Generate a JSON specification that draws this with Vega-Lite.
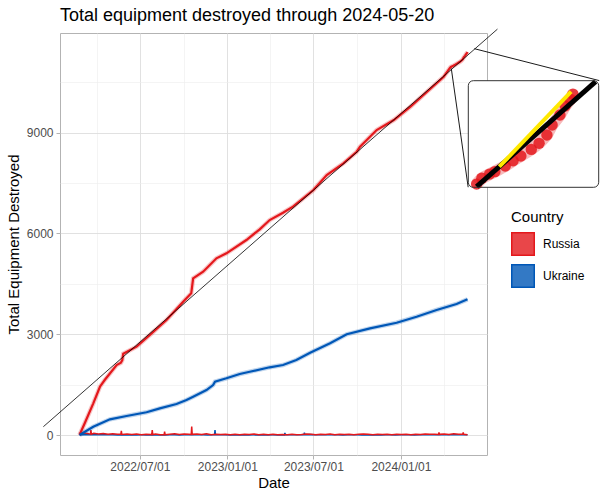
{
"$schema": "https://vega.github.io/schema/vega-lite/v6.json",
"width": 427, "height": 422,
"autosize": {"type": "none"},
"padding": {"left": 60, "top": 33, "right": 113, "bottom": 45},
"background": "white",
"title": {"text": "Total equipment destroyed through 2024-05-20", "anchor": "start", "frame": "group", "fontSize": 18, "fontWeight": "normal", "color": "black", "font": "Liberation Sans", "offset": 3},
"config": {
  "view": {"stroke": "#b3b3b3", "strokeWidth": 1},
  "font": "Liberation Sans",
  "axis": {"domain": false, "tickColor": "#b3b3b3", "tickSize": 4, "labelColor": "#4d4d4d", "labelFontSize": 12, "titleFontSize": 15, "titleFontWeight": "normal", "titleColor": "black", "labelFlush": false, "labelOverlap": false}
},
"datasets": {
  "totals": [
    {"date": "2022-02-24", "country": "Russia", "value": 0},
    {"date": "2022-03-07", "country": "Russia", "value": 350},
    {"date": "2022-03-25", "country": "Russia", "value": 943},
    {"date": "2022-04-08", "country": "Russia", "value": 1437},
    {"date": "2022-04-18", "country": "Russia", "value": 1637},
    {"date": "2022-05-13", "country": "Russia", "value": 2083},
    {"date": "2022-05-22", "country": "Russia", "value": 2150},
    {"date": "2022-05-25", "country": "Russia", "value": 2230},
    {"date": "2022-05-27", "country": "Russia", "value": 2420},
    {"date": "2022-06-24", "country": "Russia", "value": 2628},
    {"date": "2022-07-22", "country": "Russia", "value": 2976},
    {"date": "2022-08-26", "country": "Russia", "value": 3422},
    {"date": "2022-09-30", "country": "Russia", "value": 3967},
    {"date": "2022-10-17", "country": "Russia", "value": 4217},
    {"date": "2022-10-21", "country": "Russia", "value": 4663},
    {"date": "2022-11-11", "country": "Russia", "value": 4860},
    {"date": "2022-12-09", "country": "Russia", "value": 5258},
    {"date": "2022-12-30", "country": "Russia", "value": 5407},
    {"date": "2023-02-10", "country": "Russia", "value": 5803},
    {"date": "2023-03-10", "country": "Russia", "value": 6122},
    {"date": "2023-03-31", "country": "Russia", "value": 6398},
    {"date": "2023-04-28", "country": "Russia", "value": 6616},
    {"date": "2023-05-19", "country": "Russia", "value": 6794},
    {"date": "2023-07-01", "country": "Russia", "value": 7291},
    {"date": "2023-07-29", "country": "Russia", "value": 7738},
    {"date": "2023-09-02", "country": "Russia", "value": 8085},
    {"date": "2023-09-30", "country": "Russia", "value": 8431},
    {"date": "2023-10-07", "country": "Russia", "value": 8580},
    {"date": "2023-11-11", "country": "Russia", "value": 9077},
    {"date": "2023-12-17", "country": "Russia", "value": 9374},
    {"date": "2024-01-21", "country": "Russia", "value": 9770},
    {"date": "2024-02-25", "country": "Russia", "value": 10217},
    {"date": "2024-03-31", "country": "Russia", "value": 10663},
    {"date": "2024-04-13", "country": "Russia", "value": 10923},
    {"date": "2024-04-15", "country": "Russia", "value": 10954},
    {"date": "2024-04-18", "country": "Russia", "value": 10976},
    {"date": "2024-04-20", "country": "Russia", "value": 10989},
    {"date": "2024-04-24", "country": "Russia", "value": 11019},
    {"date": "2024-04-27", "country": "Russia", "value": 11047},
    {"date": "2024-04-30", "country": "Russia", "value": 11072},
    {"date": "2024-05-04", "country": "Russia", "value": 11107},
    {"date": "2024-05-07", "country": "Russia", "value": 11139},
    {"date": "2024-05-10", "country": "Russia", "value": 11183},
    {"date": "2024-05-12", "country": "Russia", "value": 11236},
    {"date": "2024-05-15", "country": "Russia", "value": 11289},
    {"date": "2024-05-17", "country": "Russia", "value": 11337},
    {"date": "2024-05-19", "country": "Russia", "value": 11372},
    {"date": "2024-05-20", "country": "Russia", "value": 11400},
    {"date": "2022-02-24", "country": "Ukraine", "value": 0},
    {"date": "2022-03-25", "country": "Ukraine", "value": 247},
    {"date": "2022-04-29", "country": "Ukraine", "value": 467},
    {"date": "2022-06-03", "country": "Ukraine", "value": 565},
    {"date": "2022-07-15", "country": "Ukraine", "value": 676},
    {"date": "2022-08-12", "country": "Ukraine", "value": 794},
    {"date": "2022-09-16", "country": "Ukraine", "value": 922},
    {"date": "2022-10-07", "country": "Ukraine", "value": 1042},
    {"date": "2022-10-21", "country": "Ukraine", "value": 1140},
    {"date": "2022-11-18", "country": "Ukraine", "value": 1339},
    {"date": "2022-12-02", "country": "Ukraine", "value": 1488},
    {"date": "2022-12-06", "country": "Ukraine", "value": 1587},
    {"date": "2022-12-30", "country": "Ukraine", "value": 1687},
    {"date": "2023-01-27", "country": "Ukraine", "value": 1815},
    {"date": "2023-02-17", "country": "Ukraine", "value": 1884},
    {"date": "2023-03-31", "country": "Ukraine", "value": 2015},
    {"date": "2023-04-28", "country": "Ukraine", "value": 2083},
    {"date": "2023-05-26", "country": "Ukraine", "value": 2232},
    {"date": "2023-06-24", "country": "Ukraine", "value": 2449},
    {"date": "2023-08-05", "country": "Ukraine", "value": 2729},
    {"date": "2023-09-09", "country": "Ukraine", "value": 2997},
    {"date": "2023-10-28", "country": "Ukraine", "value": 3175},
    {"date": "2023-12-23", "country": "Ukraine", "value": 3342},
    {"date": "2024-02-03", "country": "Ukraine", "value": 3521},
    {"date": "2024-03-16", "country": "Ukraine", "value": 3720},
    {"date": "2024-04-27", "country": "Ukraine", "value": 3899},
    {"date": "2024-05-20", "country": "Ukraine", "value": 4038}
  ],
  "daily": [
    {"date": "2022-02-24", "country": "Ukraine", "value": 10},
    {"date": "2022-03-06", "country": "Ukraine", "value": 18},
    {"date": "2022-03-16", "country": "Ukraine", "value": 8},
    {"date": "2022-03-26", "country": "Ukraine", "value": 12},
    {"date": "2022-04-05", "country": "Ukraine", "value": 6},
    {"date": "2022-04-15", "country": "Ukraine", "value": 10},
    {"date": "2022-04-25", "country": "Ukraine", "value": 4},
    {"date": "2022-05-05", "country": "Ukraine", "value": 8},
    {"date": "2022-05-15", "country": "Ukraine", "value": 3},
    {"date": "2022-05-25", "country": "Ukraine", "value": 6},
    {"date": "2022-06-04", "country": "Ukraine", "value": 2},
    {"date": "2022-06-14", "country": "Ukraine", "value": 5},
    {"date": "2022-06-24", "country": "Ukraine", "value": 3},
    {"date": "2022-07-04", "country": "Ukraine", "value": 4},
    {"date": "2022-07-14", "country": "Ukraine", "value": 2},
    {"date": "2022-07-24", "country": "Ukraine", "value": 5},
    {"date": "2022-08-03", "country": "Ukraine", "value": 3},
    {"date": "2022-08-13", "country": "Ukraine", "value": 6},
    {"date": "2022-08-23", "country": "Ukraine", "value": 2},
    {"date": "2022-09-02", "country": "Ukraine", "value": 5},
    {"date": "2022-09-12", "country": "Ukraine", "value": 9},
    {"date": "2022-09-22", "country": "Ukraine", "value": 3},
    {"date": "2022-10-02", "country": "Ukraine", "value": 6},
    {"date": "2022-10-12", "country": "Ukraine", "value": 4},
    {"date": "2022-10-22", "country": "Ukraine", "value": 7},
    {"date": "2022-11-01", "country": "Ukraine", "value": 5},
    {"date": "2022-11-11", "country": "Ukraine", "value": 10},
    {"date": "2022-11-21", "country": "Ukraine", "value": 3},
    {"date": "2022-12-01", "country": "Ukraine", "value": 6},
    {"date": "2022-12-05", "country": "Ukraine", "value": 5},
    {"date": "2022-12-06", "country": "Ukraine", "value": 150},
    {"date": "2022-12-07", "country": "Ukraine", "value": 5},
    {"date": "2022-12-17", "country": "Ukraine", "value": 4},
    {"date": "2022-12-27", "country": "Ukraine", "value": 6},
    {"date": "2023-01-06", "country": "Ukraine", "value": 3},
    {"date": "2023-01-16", "country": "Ukraine", "value": 5},
    {"date": "2023-01-26", "country": "Ukraine", "value": 2},
    {"date": "2023-02-05", "country": "Ukraine", "value": 6},
    {"date": "2023-02-15", "country": "Ukraine", "value": 3},
    {"date": "2023-02-25", "country": "Ukraine", "value": 4},
    {"date": "2023-03-07", "country": "Ukraine", "value": 2},
    {"date": "2023-03-17", "country": "Ukraine", "value": 5},
    {"date": "2023-03-27", "country": "Ukraine", "value": 3},
    {"date": "2023-04-06", "country": "Ukraine", "value": 4},
    {"date": "2023-04-16", "country": "Ukraine", "value": 2},
    {"date": "2023-04-26", "country": "Ukraine", "value": 6},
    {"date": "2023-05-01", "country": "Ukraine", "value": 3},
    {"date": "2023-05-02", "country": "Ukraine", "value": 60},
    {"date": "2023-05-03", "country": "Ukraine", "value": 5},
    {"date": "2023-05-13", "country": "Ukraine", "value": 8},
    {"date": "2023-05-23", "country": "Ukraine", "value": 5},
    {"date": "2023-06-02", "country": "Ukraine", "value": 10},
    {"date": "2023-06-11", "country": "Ukraine", "value": 6},
    {"date": "2023-06-12", "country": "Ukraine", "value": 70},
    {"date": "2023-06-13", "country": "Ukraine", "value": 8},
    {"date": "2023-06-23", "country": "Ukraine", "value": 12},
    {"date": "2023-07-03", "country": "Ukraine", "value": 6},
    {"date": "2023-07-13", "country": "Ukraine", "value": 10},
    {"date": "2023-07-23", "country": "Ukraine", "value": 5},
    {"date": "2023-08-02", "country": "Ukraine", "value": 8},
    {"date": "2023-08-12", "country": "Ukraine", "value": 4},
    {"date": "2023-08-22", "country": "Ukraine", "value": 7},
    {"date": "2023-09-01", "country": "Ukraine", "value": 3},
    {"date": "2023-09-11", "country": "Ukraine", "value": 6},
    {"date": "2023-09-21", "country": "Ukraine", "value": 4},
    {"date": "2023-10-01", "country": "Ukraine", "value": 5},
    {"date": "2023-10-11", "country": "Ukraine", "value": 3},
    {"date": "2023-10-21", "country": "Ukraine", "value": 6},
    {"date": "2023-10-31", "country": "Ukraine", "value": 2},
    {"date": "2023-11-10", "country": "Ukraine", "value": 5},
    {"date": "2023-11-20", "country": "Ukraine", "value": 3},
    {"date": "2023-11-30", "country": "Ukraine", "value": 4},
    {"date": "2023-12-10", "country": "Ukraine", "value": 6},
    {"date": "2023-12-20", "country": "Ukraine", "value": 3},
    {"date": "2023-12-30", "country": "Ukraine", "value": 5},
    {"date": "2024-01-09", "country": "Ukraine", "value": 4},
    {"date": "2024-01-19", "country": "Ukraine", "value": 6},
    {"date": "2024-01-29", "country": "Ukraine", "value": 3},
    {"date": "2024-02-08", "country": "Ukraine", "value": 7},
    {"date": "2024-02-18", "country": "Ukraine", "value": 4},
    {"date": "2024-02-28", "country": "Ukraine", "value": 6},
    {"date": "2024-03-09", "country": "Ukraine", "value": 5},
    {"date": "2024-03-19", "country": "Ukraine", "value": 8},
    {"date": "2024-03-29", "country": "Ukraine", "value": 4},
    {"date": "2024-04-08", "country": "Ukraine", "value": 6},
    {"date": "2024-04-18", "country": "Ukraine", "value": 5},
    {"date": "2024-04-28", "country": "Ukraine", "value": 7},
    {"date": "2024-05-08", "country": "Ukraine", "value": 4},
    {"date": "2024-05-20", "country": "Ukraine", "value": 6},
    {"date": "2022-02-24", "country": "Russia", "value": 45},
    {"date": "2022-03-06", "country": "Russia", "value": 60},
    {"date": "2022-03-16", "country": "Russia", "value": 35},
    {"date": "2022-03-19", "country": "Russia", "value": 30},
    {"date": "2022-03-20", "country": "Russia", "value": 150},
    {"date": "2022-03-21", "country": "Russia", "value": 25},
    {"date": "2022-03-26", "country": "Russia", "value": 50},
    {"date": "2022-04-05", "country": "Russia", "value": 30},
    {"date": "2022-04-15", "country": "Russia", "value": 45},
    {"date": "2022-04-25", "country": "Russia", "value": 20},
    {"date": "2022-05-05", "country": "Russia", "value": 40},
    {"date": "2022-05-15", "country": "Russia", "value": 25},
    {"date": "2022-05-22", "country": "Russia", "value": 20},
    {"date": "2022-05-23", "country": "Russia", "value": 120},
    {"date": "2022-05-24", "country": "Russia", "value": 15},
    {"date": "2022-06-04", "country": "Russia", "value": 30},
    {"date": "2022-06-14", "country": "Russia", "value": 15},
    {"date": "2022-06-24", "country": "Russia", "value": 30},
    {"date": "2022-07-04", "country": "Russia", "value": 10},
    {"date": "2022-07-14", "country": "Russia", "value": 25},
    {"date": "2022-07-24", "country": "Russia", "value": 15},
    {"date": "2022-07-26", "country": "Russia", "value": 10},
    {"date": "2022-07-27", "country": "Russia", "value": 150},
    {"date": "2022-07-28", "country": "Russia", "value": 15},
    {"date": "2022-08-03", "country": "Russia", "value": 30},
    {"date": "2022-08-13", "country": "Russia", "value": 10},
    {"date": "2022-08-21", "country": "Russia", "value": 15},
    {"date": "2022-08-22", "country": "Russia", "value": 100},
    {"date": "2022-08-23", "country": "Russia", "value": 10},
    {"date": "2022-09-02", "country": "Russia", "value": 25},
    {"date": "2022-09-12", "country": "Russia", "value": 40},
    {"date": "2022-09-22", "country": "Russia", "value": 15},
    {"date": "2022-10-02", "country": "Russia", "value": 30},
    {"date": "2022-10-12", "country": "Russia", "value": 20},
    {"date": "2022-10-17", "country": "Russia", "value": 15},
    {"date": "2022-10-18", "country": "Russia", "value": 250},
    {"date": "2022-10-19", "country": "Russia", "value": 20},
    {"date": "2022-10-29", "country": "Russia", "value": 30},
    {"date": "2022-11-08", "country": "Russia", "value": 15},
    {"date": "2022-11-18", "country": "Russia", "value": 40},
    {"date": "2022-11-28", "country": "Russia", "value": 10},
    {"date": "2022-12-08", "country": "Russia", "value": 25},
    {"date": "2022-12-18", "country": "Russia", "value": 15},
    {"date": "2022-12-28", "country": "Russia", "value": 20},
    {"date": "2023-01-07", "country": "Russia", "value": 10},
    {"date": "2023-01-17", "country": "Russia", "value": 20},
    {"date": "2023-01-27", "country": "Russia", "value": 5},
    {"date": "2023-02-06", "country": "Russia", "value": 25},
    {"date": "2023-02-16", "country": "Russia", "value": 15},
    {"date": "2023-02-26", "country": "Russia", "value": 30},
    {"date": "2023-03-08", "country": "Russia", "value": 10},
    {"date": "2023-03-18", "country": "Russia", "value": 25},
    {"date": "2023-03-28", "country": "Russia", "value": 5},
    {"date": "2023-04-07", "country": "Russia", "value": 20},
    {"date": "2023-04-17", "country": "Russia", "value": 10},
    {"date": "2023-04-27", "country": "Russia", "value": 15},
    {"date": "2023-05-07", "country": "Russia", "value": 5},
    {"date": "2023-05-17", "country": "Russia", "value": 20},
    {"date": "2023-05-27", "country": "Russia", "value": 10},
    {"date": "2023-06-06", "country": "Russia", "value": 15},
    {"date": "2023-06-16", "country": "Russia", "value": 30},
    {"date": "2023-06-26", "country": "Russia", "value": 20},
    {"date": "2023-07-06", "country": "Russia", "value": 10},
    {"date": "2023-07-16", "country": "Russia", "value": 25},
    {"date": "2023-07-26", "country": "Russia", "value": 15},
    {"date": "2023-08-05", "country": "Russia", "value": 30},
    {"date": "2023-08-15", "country": "Russia", "value": 10},
    {"date": "2023-08-25", "country": "Russia", "value": 20},
    {"date": "2023-09-04", "country": "Russia", "value": 15},
    {"date": "2023-09-14", "country": "Russia", "value": 25},
    {"date": "2023-09-24", "country": "Russia", "value": 10},
    {"date": "2023-10-04", "country": "Russia", "value": 20},
    {"date": "2023-10-14", "country": "Russia", "value": 30},
    {"date": "2023-10-24", "country": "Russia", "value": 20},
    {"date": "2023-11-03", "country": "Russia", "value": 10},
    {"date": "2023-11-13", "country": "Russia", "value": 25},
    {"date": "2023-11-23", "country": "Russia", "value": 15},
    {"date": "2023-12-03", "country": "Russia", "value": 20},
    {"date": "2023-12-13", "country": "Russia", "value": 10},
    {"date": "2023-12-23", "country": "Russia", "value": 25},
    {"date": "2024-01-02", "country": "Russia", "value": 15},
    {"date": "2024-01-12", "country": "Russia", "value": 20},
    {"date": "2024-01-22", "country": "Russia", "value": 10},
    {"date": "2024-02-01", "country": "Russia", "value": 25},
    {"date": "2024-02-11", "country": "Russia", "value": 15},
    {"date": "2024-02-21", "country": "Russia", "value": 30},
    {"date": "2024-03-02", "country": "Russia", "value": 20},
    {"date": "2024-03-12", "country": "Russia", "value": 25},
    {"date": "2024-03-20", "country": "Russia", "value": 15},
    {"date": "2024-03-21", "country": "Russia", "value": 80},
    {"date": "2024-03-22", "country": "Russia", "value": 20},
    {"date": "2024-04-01", "country": "Russia", "value": 30},
    {"date": "2024-04-11", "country": "Russia", "value": 15},
    {"date": "2024-04-21", "country": "Russia", "value": 35},
    {"date": "2024-05-01", "country": "Russia", "value": 20},
    {"date": "2024-05-10", "country": "Russia", "value": 25},
    {"date": "2024-05-11", "country": "Russia", "value": 80},
    {"date": "2024-05-12", "country": "Russia", "value": 20},
    {"date": "2024-05-20", "country": "Russia", "value": 10}
  ],
  "fit": [
    {"date": "2021-12-10", "value": 247},
    {"date": "2024-07-22", "value": 12080}
  ],
  "connectors": [
    {"date": "2024-04-15T22:00:00Z", "value": 10905, "date2": "2024-05-21T10:00:00Z", "value2": 7374},
    {"date": "2024-06-03T10:00:00Z", "value": 11497, "date2": "2025-02-21T00:00:00Z", "value2": 10548}
  ],
  "insetBox": [
    {"date": "2024-04-09T19:12:00Z", "value": 10906, "date2": "2024-05-29T21:36:00Z", "value2": 11471}
  ],
  "insetLines": [
    {"line": "fit", "date": "2024-04-13T00:00:00Z", "value": 10909},
    {"line": "fit", "date": "2024-05-28T17:00:00Z", "value": 11466},
    {"line": "trend", "date": "2024-04-21T17:00:00Z", "value": 11015},
    {"line": "trend", "date": "2024-05-19T07:00:00Z", "value": 11413}
  ]
},
"layer": [
  {
    "encoding": {
      "x": {"field": "date", "type": "temporal", "title": "Date",
        "scale": {"type": "utc", "domain": [{"year": 2022, "month": 1, "date": 14, "utc": true}, {"year": 2024, "month": 6, "date": 30, "utc": true}]},
        "axis": {
          "values": [
            {"year": 2022, "month": 4, "date": 1, "utc": true},
            {"year": 2022, "month": 7, "date": 1, "utc": true},
            {"year": 2022, "month": 10, "date": 1, "utc": true},
            {"year": 2023, "month": 1, "date": 1, "utc": true},
            {"year": 2023, "month": 4, "date": 1, "utc": true},
            {"year": 2023, "month": 7, "date": 1, "utc": true},
            {"year": 2023, "month": 10, "date": 1, "utc": true},
            {"year": 2024, "month": 1, "date": 1, "utc": true},
            {"year": 2024, "month": 4, "date": 1, "utc": true}
          ],
          "labelExpr": "utcmonth(datum.value) % 6 === 0 ? utcFormat(datum.value, '%Y/%m/%d') : ''",
          "grid": true,
          "gridColor": {"condition": {"test": "utcmonth(datum.value) % 6 === 0", "value": "#dedede"}, "value": "#ececec"},
          "gridWidth": {"condition": {"test": "utcmonth(datum.value) % 6 === 0", "value": 0.9}, "value": 0.6},
          "tickOpacity": {"condition": {"test": "utcmonth(datum.value) % 6 === 0", "value": 1}, "value": 0},
          "labelPadding": 2, "titlePadding": 3
        }
      },
      "y": {"field": "value", "type": "quantitative", "title": "Total Equipment Destroyed",
        "scale": {"domain": [-595, 11964], "nice": false, "zero": false},
        "axis": {
          "values": [0, 1500, 3000, 4500, 6000, 7500, 9000, 10500],
          "labelExpr": "datum.value % 3000 === 0 ? format(datum.value, 'd') : ''",
          "grid": true,
          "gridColor": {"condition": {"test": "datum.value % 3000 === 0", "value": "#dedede"}, "value": "#ececec"},
          "gridWidth": {"condition": {"test": "datum.value % 3000 === 0", "value": 0.9}, "value": 0.6},
          "tickOpacity": {"condition": {"test": "datum.value % 3000 === 0", "value": 1}, "value": 0},
          "labelPadding": 3, "titlePadding": 5
        }
      }
    },
    "layer": [
      {
        "data": {"name": "daily"},
        "transform": [{"filter": "datum.country === 'Ukraine'"}],
        "mark": {"type": "line", "strokeWidth": 1.5},
        "encoding": {"color": {"field": "country", "type": "nominal"}}
      },
      {
        "data": {"name": "daily"},
        "transform": [{"filter": "datum.country === 'Russia'"}],
        "mark": {"type": "line", "strokeWidth": 1.5},
        "encoding": {"color": {"field": "country", "type": "nominal"}}
      },
      {
        "data": {"name": "totals"},
        "mark": {"type": "line", "strokeWidth": 4.5, "opacity": 0.25},
        "encoding": {"color": {"field": "country", "type": "nominal"}}
      },
      {
        "data": {"name": "totals"},
        "mark": {"type": "line", "strokeWidth": 2.2},
        "encoding": {
          "color": {"field": "country", "type": "nominal", "title": "Country",
            "scale": {"domain": ["Russia", "Ukraine"], "range": ["#E4181C", "#0057B7"]},
            "legend": {"orient": "none", "legendX": 451, "legendY": 177, "symbolType": "square", "symbolSize": 506, "symbolStrokeWidth": 1.5,
              "titleFontSize": 15, "titleFontWeight": "normal", "titleColor": "black", "titlePadding": 7,
              "labelFontSize": 12, "labelColor": "black", "labelOffset": 8, "rowPadding": 2, "padding": 0,
              "encode": {"symbols": {"update": {"fill": {"scale": "color", "field": "value"}, "fillOpacity": {"value": 0.8}, "opacity": {"value": 1}}}}
            }
          }
        }
      },
      {
        "data": {"name": "fit"},
        "mark": {"type": "line", "color": "black", "strokeWidth": 0.8},
        "encoding": {}
      },
      {
        "data": {"name": "connectors"},
        "mark": {"type": "rule", "color": "black", "strokeWidth": 0.9},
        "encoding": {"x2": {"field": "date2"}, "y2": {"field": "value2"}}
      }
    ]
  },
  {
    "encoding": {
      "x": {"field": "date", "type": "temporal",
        "scale": {"type": "utc", "domain": [{"year": 2024, "month": 4, "date": 9, "hours": 19, "minutes": 12, "utc": true}, {"year": 2024, "month": 5, "date": 29, "hours": 21, "minutes": 36, "utc": true}], "range": [408.3, 538.7]},
        "axis": null},
      "y": {"field": "value", "type": "quantitative",
        "scale": {"domain": [10906, 11471], "range": [154.3, 47.7], "nice": false, "zero": false},
        "axis": null}
    },
    "layer": [
      {
        "data": {"name": "insetBox"},
        "mark": {"type": "rect", "fill": "white", "cornerRadius": 5},
        "encoding": {"x2": {"field": "date2"}, "y2": {"field": "value2"}}
      },
      {
        "data": {"name": "totals"},
        "transform": [{"filter": "datum.country === 'Russia' && toDate(datum.date) >= toDate('2024-04-12')"}],
        "mark": {"type": "line", "color": "#E4181C", "strokeWidth": 12, "opacity": 0.3},
        "encoding": {}
      },
      {
        "data": {"name": "totals"},
        "transform": [{"filter": "datum.country === 'Russia' && toDate(datum.date) >= toDate('2024-04-12')"}],
        "mark": {"type": "point", "filled": true, "color": "#E4181C", "size": 130, "opacity": 0.85},
        "encoding": {}
      },
      {
        "data": {"name": "insetLines"},
        "transform": [{"filter": "datum.line === 'fit'"}],
        "mark": {"type": "line", "color": "black", "strokeWidth": 5},
        "encoding": {}
      },
      {
        "data": {"name": "insetLines"},
        "transform": [{"filter": "datum.line === 'trend'"}],
        "mark": {"type": "line", "color": "#FFE800", "strokeWidth": 4},
        "encoding": {}
      },
      {
        "data": {"name": "insetBox"},
        "mark": {"type": "rect", "fill": null, "stroke": "#333333", "strokeWidth": 1, "cornerRadius": 5},
        "encoding": {"x2": {"field": "date2"}, "y2": {"field": "value2"}}
      }
    ]
  }
],
"resolve": {"scale": {"x": "independent", "y": "independent"}}
}
